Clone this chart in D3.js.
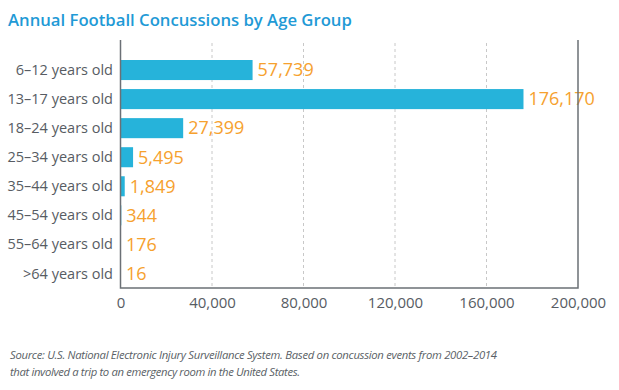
<!DOCTYPE html>
<html><head><meta charset="utf-8">
<script src="https://cdn.jsdelivr.net/npm/d3@7"></script>
<style>body{margin:0;background:#fff;} text{font-family:"Open Sans",sans-serif;}</style>
</head><body>
<svg id="c" width="619" height="390"></svg>
<script>
const categories = ["6–12 years old","13–17 years old","18–24 years old","25–34 years old","35–44 years old","45–54 years old","55–64 years old",">64 years old"];
const values = [57739,176170,27399,5495,1849,344,176,16];
const tickValues = [0,40000,80000,120000,160000,200000];

const svg = d3.select("#c");
const mLeft = 120.5, mRight = 578, mTop = 40, mBottom = 288;
const x = d3.scaleLinear().domain([0,200000]).range([mLeft,mRight]);
const y = d3.scaleBand().domain(categories).range([55.5,288]).paddingInner(0.31).paddingOuter(0.155);

svg.append("text").attr("x",8).attr("y",26).attr("fill","#1f9ad6").attr("font-size",16.7).attr("font-weight",600)
  .text("Annual Football Concussions by Age Group");

// gridlines
svg.append("g").selectAll("line").data(tickValues.slice(1,-1)).join("line")
  .attr("x1",d=>x(d)).attr("x2",d=>x(d)).attr("y1",43).attr("y2",mBottom)
  .attr("stroke","#c8c8c8").attr("stroke-dasharray","3,3");

// bars
svg.append("g").selectAll("rect").data(values).join("rect")
  .attr("x",x(0)).attr("y",(d,i)=>y(categories[i])).attr("height",y.bandwidth())
  .attr("width",d=>x(d)-x(0)).attr("fill","#26b3da");

// value labels
svg.append("g").selectAll("text").data(values).join("text")
  .attr("x",d=>Math.max(x(d)+5,126)).attr("y",(d,i)=>y(categories[i])+y.bandwidth()/2)
  .attr("dy","0.35em").attr("fill","#f6a12e").attr("font-size",18)
  .text(d=>d3.format(",")(d));

// category labels
svg.append("g").selectAll("text").data(categories).join("text")
  .attr("x",113).attr("y",d=>y(d)+y.bandwidth()/2).attr("dy","0.35em")
  .attr("text-anchor","end").attr("fill","#575c63").attr("font-size",14.5).text(d=>d);

// x axis
const ax = svg.append("g").attr("transform",`translate(0,${mBottom})`)
  .call(d3.axisBottom(x).tickValues(tickValues).tickSize(0).tickPadding(9).tickFormat(d3.format(",")));
ax.select(".domain").remove();
ax.selectAll("text").attr("fill","#575c63").attr("font-size",15).style("font-family","'Open Sans',sans-serif");

// frame
svg.append("path").attr("d",`M${mLeft},${mTop}V${mBottom}H${mRight}V${mTop}`)
  .attr("fill","none").attr("stroke","#6b7076").attr("stroke-width",1.5);

const src = svg.append("text").attr("fill","#5a5f66").attr("font-size",11.3).attr("font-style","italic");
src.append("tspan").attr("x",10).attr("y",359).attr("textLength",487).attr("lengthAdjust","spacing")
  .text("Source: U.S. National Electronic Injury Surveillance System. Based on concussion events from 2002–2014");
src.append("tspan").attr("x",10).attr("y",376).attr("textLength",290).attr("lengthAdjust","spacing")
  .text("that involved a trip to an emergency room in the United States.");
</script>
</body></html>
